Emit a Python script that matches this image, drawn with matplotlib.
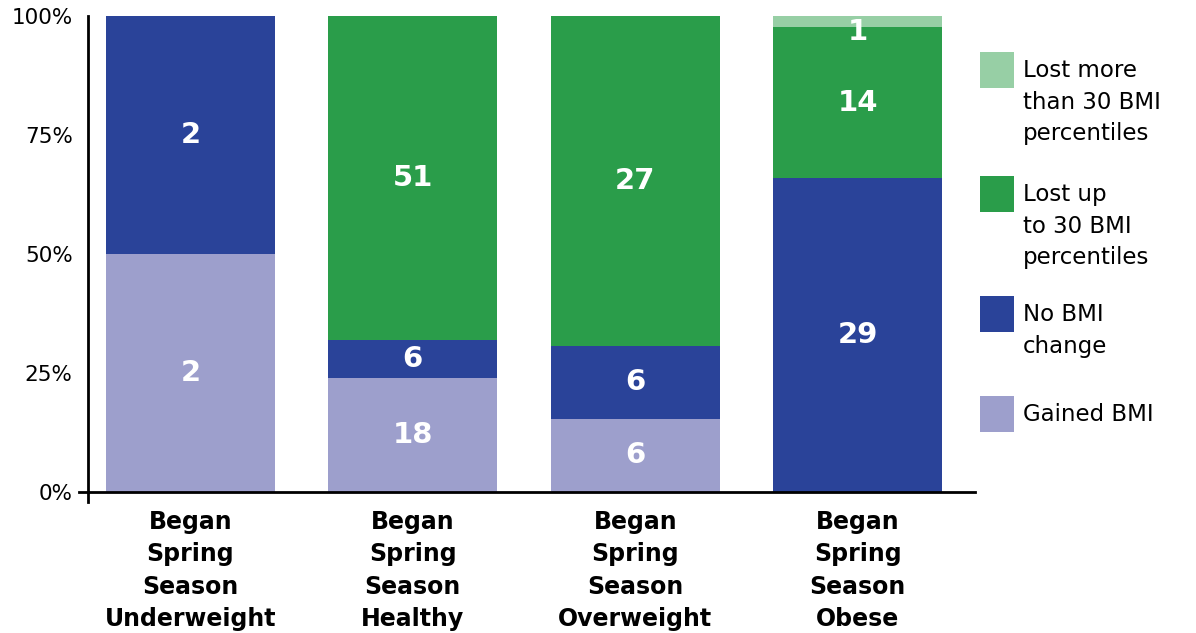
import matplotlib
matplotlib.use("Agg")
import matplotlib.pyplot as plt
from matplotlib.patches import Rectangle
from matplotlib.transforms import ScaledTranslation
import numpy as np

plt.rcParams['font.family'] = ['DejaVu Sans']

categories = ["Began\nSpring\nSeason\nUnderweight", "Began\nSpring\nSeason\nHealthy",
              "Began\nSpring\nSeason\nOverweight", "Began\nSpring\nSeason\nObese"]

# counts per group, bottom to top
gained = [2, 18, 6, 0]
no_change = [2, 6, 6, 29]
lost_up_to_30 = [0, 51, 27, 14]
lost_more_30 = [0, 0, 0, 1]

series = [gained, no_change, lost_up_to_30, lost_more_30]
series_names = ["Gained BMI", "No BMI\nchange", "Lost up\nto 30 BMI\npercentiles",
                "Lost more\nthan 30 BMI\npercentiles"]
colors = ["#9d9fcc", "#2a4399", "#2a9d4a", "#97cfa5"]

counts = np.array(series, dtype=float)
totals = counts.sum(axis=0)
shares = counts / totals

fig = plt.figure(figsize=(11.96, 6.33), dpi=100)
ax = fig.add_axes([0.0736, 0.2227, 0.7416, 0.752])

x = np.arange(len(categories))
bottom = np.zeros(len(categories))
for vals, share, color in zip(counts, shares, colors):
    ax.bar(x, share, 0.76, bottom=bottom, color=color, linewidth=0)
    for xi, v, s, b in zip(x, vals, share, bottom):
        if v > 0:
            ypos = b + s / 2
            va = 'center'
            if s < 0.05:
                ypos, va = b + s - 0.004, 'top'
            ax.text(xi, ypos, f"{int(v)}", ha='center', va=va, color='white',
                    fontsize=21, fontweight='bold')
    bottom += share

ax.set_xlim(-0.46, 3.527)
ax.set_ylim(0, 1)
ax.set_yticks([0, 0.25, 0.5, 0.75, 1.0])
ax.set_yticklabels(["0%", "25%", "50%", "75%", "100%"])
ax.set_xticks(x)
ax.set_xticklabels(categories, fontsize=17, fontweight='bold', linespacing=1.44)
ax.tick_params(axis='y', length=0, pad=11, labelsize=15.5)
ax.tick_params(axis='x', length=0, pad=13)

# nudge the percent labels down a little
shift = ScaledTranslation(0, -4 / 100, fig.dpi_scale_trans)
for lab in ax.get_yticklabels():
    lab.set_transform(lab.get_transform() + shift)

for side in ['top', 'right']:
    ax.spines[side].set_visible(False)
ax.spines['left'].set_linewidth(2)
ax.spines['bottom'].set_linewidth(2)
ax.spines['left'].set_bounds(-0.02, 1)
ax.plot([-0.01, 0], [0, 0], transform=ax.transAxes, color='black', lw=2, clip_on=False)
ax.spines['left'].set_position(('data', -0.46))

# legend drawn by hand so the swatches line up with the first text line
leg_x = 980 / 1196
sw_w = 34 / 1196
sw_h = 36 / 633
leg_tops = [52, 176, 296, 396]
for name, color, top in zip(series_names[::-1], colors[::-1], leg_tops):
    y0 = 1 - (top + 36) / 633
    fig.patches.append(Rectangle((leg_x, y0), sw_w, sw_h, transform=fig.transFigure,
                                 color=color, linewidth=0))
    fig.text(1023 / 1196, 1 - (top + 7) / 633, name, fontsize=16.5, va='top', ha='left',
             linespacing=1.48)

fig.savefig("out.png", dpi=100)
